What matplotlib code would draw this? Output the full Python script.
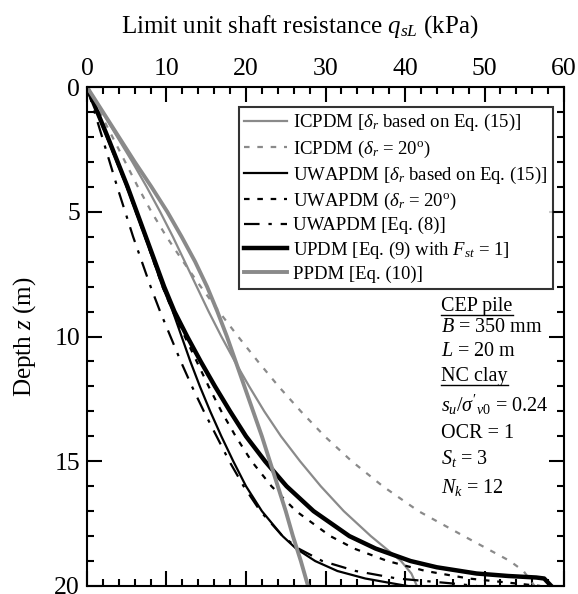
import numpy as np
import matplotlib
matplotlib.use('Agg')
import matplotlib.pyplot as plt
from matplotlib.lines import Line2D

plt.rcParams['font.family'] = ['Liberation Serif', 'DejaVu Serif']
plt.rcParams['mathtext.fontset'] = 'custom'
plt.rcParams['mathtext.rm'] = 'Liberation Serif'
plt.rcParams['mathtext.it'] = 'Liberation Serif:italic'
plt.rcParams['mathtext.bf'] = 'Liberation Serif:bold'

GRAY = '#8a8a8a'

# depth (m) / limit unit shaft resistance (kPa)
z_icp15 = [0, 1, 2, 3, 4, 5, 6, 7, 8, 9, 10, 11, 12, 13, 14, 15, 16, 17, 18, 19, 19.5, 20]
q_icp15 = [0, 1.9, 3.8, 5.7, 7.5, 9.2, 10.8, 12.3, 13.8, 15.3, 16.9, 18.6, 20.4, 22.3,
           24.4, 26.8, 29.4, 32.3, 35.7, 39.5, 40.8, 41.5]

z_icp20 = [0, 1, 2, 3, 4, 5, 6, 7, 8, 9, 10, 11, 12, 13, 14, 15, 16, 17, 18, 19, 19.4,
           19.7, 20]
q_icp20 = [0, 1.6, 3.2, 4.8, 6.4, 8.1, 10.0, 12.1, 14.3, 16.6, 19.0, 21.5, 24.1, 26.9,
           29.9, 33.3, 37.2, 41.7, 47.4, 53.2, 54.9, 55.6, 56.3]

z_uwa15 = [0, 2, 4, 6, 8, 9, 10, 11, 12, 13, 14, 15, 16, 17, 18, 18.5, 19, 19.4, 19.7,
           19.9, 20]
q_uwa15 = [0, 2.5, 5.0, 7.3, 9.5, 10.8, 11.9, 13.0, 14.2, 15.5, 16.9, 18.4, 20.0, 22.0,
           24.6, 26.3, 28.7, 31.5, 35.0, 38.5, 40.3]

z_uwa20 = [0, 2, 4, 6, 8, 9, 10, 11, 12, 13, 14, 15, 16, 17, 18, 18.5, 19, 19.4, 19.7,
           19.85, 20]
q_uwa20 = [0, 2.5, 5.0, 7.3, 9.5, 10.8, 12.3, 13.8, 15.3, 16.9, 18.7, 20.7, 23.2, 26.3,
           30.6, 33.6, 37.8, 42.6, 48.0, 52.5, 57.0]

z_uwa8 = [0, 1, 2, 3, 4, 5, 6, 7, 8, 9, 10, 11, 12, 13, 14, 15, 16, 17, 18, 18.5, 19,
          19.4, 19.7, 19.9, 20]
q_uwa8 = [0, 0.95, 1.9, 2.85, 3.8, 4.8, 5.8, 6.9, 8.0, 9.2, 10.5, 11.8, 13.2, 14.7, 16.3,
          17.9, 19.7, 21.8, 24.6, 26.6, 29.6, 33.8, 39.0, 46.0, 49.0]

z_updm = [0, 2, 4, 6, 8, 9, 10, 11, 12, 13, 14, 15, 16, 17, 18, 18.5, 19, 19.25, 19.5,
          19.6, 19.66, 19.7, 20]
q_updm = [0, 2.6, 5.1, 7.4, 9.7, 11.0, 12.6, 14.3, 16.1, 18.0, 20.0, 22.4, 25.1, 28.5,
          33.0, 36.3, 40.7, 44.0, 49.0, 53.0, 56.5, 57.5, 58.4]

z_ppdm = [0, 1, 2, 3, 4, 5, 6, 7, 8, 9, 10, 11, 12, 13, 14, 15, 16, 17, 18, 19, 20]
q_ppdm = [0, 2.0, 4.0, 6.0, 8.1, 10.1, 11.9, 13.6, 15.1, 16.4, 17.6, 18.7, 19.8, 20.9,
          22.0, 23.0, 24.0, 25.0, 25.9, 26.9, 27.8]

labels = [r'ICPDM [$\delta_r$ based on Eq. (15)]',
          r'ICPDM ($\delta_r$ = 20$^\mathrm{o}$)',
          r'UWAPDM [$\delta_r$ based on Eq. (15)]',
          r'UWAPDM ($\delta_r$ = 20$^\mathrm{o}$)',
          'UWAPDM [Eq. (8)]',
          r'UPDM [Eq. (9) with $F_{st}$ = 1]',
          'PPDM [Eq. (10)]']

fig = plt.figure(figsize=(5.78, 5.94), dpi=100)
ax = fig.add_axes([0.1505, 0.0135, 0.8253, 0.84])

ax.plot(q_icp15, z_icp15, color=GRAY, lw=1.6, label=labels[0])
ax.plot(q_icp20, z_icp20, color=GRAY, lw=1.6, ls=(0, (2.5, 3.5)), label=labels[1])
ax.plot(q_uwa15, z_uwa15, color='black', lw=1.6, label=labels[2])
ax.plot(q_uwa20, z_uwa20, color='black', lw=1.6, ls=(0, (2.5, 3.5)), label=labels[3])
ax.plot(q_uwa8, z_uwa8, color='black', lw=1.6, ls=(0, (7, 4, 1.5, 4)), label=labels[4])
ax.plot(q_updm, z_updm, color='black', lw=3.2, label=labels[5])
ax.plot(q_ppdm, z_ppdm, color=GRAY, lw=2.8, label=labels[6])

ax.set_xlim(0, 60)
ax.set_ylim(20, 0)
ax.set_xticks(np.arange(0, 61, 10))
ax.set_xticks(np.arange(0, 61, 2), minor=True)
ax.set_yticks(np.arange(0, 21, 5))
ax.set_yticks(np.arange(0, 21, 1), minor=True)
ax.tick_params(which='both', direction='in', top=True, bottom=True, left=True, right=True,
               labeltop=True, labelbottom=False, width=1.5, labelsize=18.5)
ax.tick_params(which='major', length=10.5, pad=5)
ax.tick_params(which='minor', length=5.3)
for s in ax.spines.values():
    s.set_linewidth(1.5)

ax.xaxis.set_label_position('top')
ax.set_xlabel(r'Limit unit shaft resistance $q_{sL}$ (kPa)', fontsize=18)
ax.xaxis.set_label_coords(0.447, 1.11)
ax.set_ylabel(r'Depth $z$ (m)', fontsize=18, labelpad=12)

leg = ax.legend(loc='upper right', bbox_to_anchor=(0.977, 0.9605), borderaxespad=0,
                fontsize=13.5, frameon=True, fancybox=False, edgecolor='black',
                handlelength=2.3, handletextpad=0.3, labelspacing=0.27, borderpad=0.3)
leg.get_frame().set_linewidth(1.5)

info = ['CEP pile', r'$B$ = 350 mm', r'$L$ = 20 m', 'NC clay',
        r"$s_u/\sigma'_{v0}$ = 0.24", 'OCR = 1', r'$S_t$ = 3', r'$N_k$ = 12']
ys = [0.561, 0.519, 0.469, 0.419, 0.362, 0.305, 0.255, 0.198]
texts = []
for t, y in zip(info, ys):
    texts.append(ax.text(0.743, y, t, transform=ax.transAxes, fontsize=14.5,
                         ha='left', va='center'))

# underline the two headings
fig.canvas.draw()
r = fig.canvas.get_renderer()
inv = fig.transFigure.inverted()
for k in (0, 3):
    bb = texts[k].get_window_extent(r)
    (x0, y0), (x1, _) = inv.transform([[bb.x0, bb.y0 + 1], [bb.x1, bb.y0]])
    fig.add_artist(Line2D([x0, x1], [y0, y0], color='black', lw=1.0,
                          transform=fig.transFigure))

fig.savefig('out.png', dpi=100)
